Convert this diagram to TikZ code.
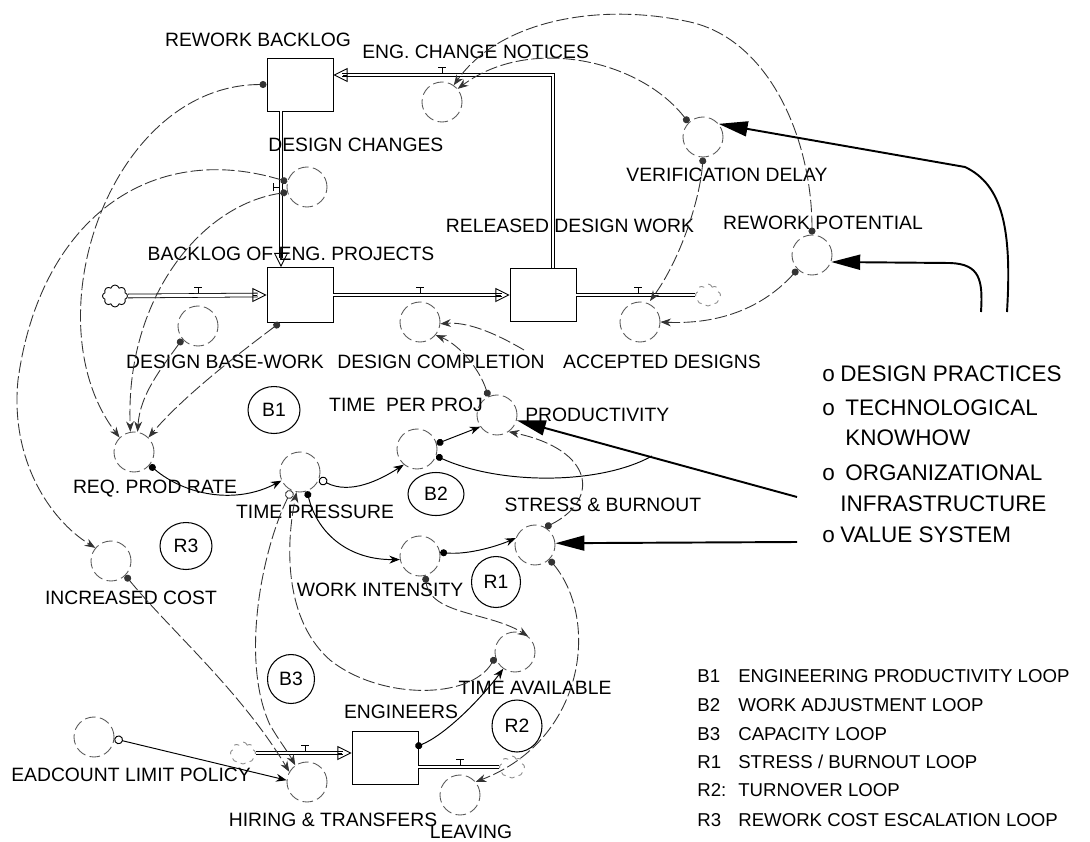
\documentclass[tikz,border=0pt]{standalone}
\usepackage{fontspec}
\setmainfont{Liberation Sans}
\usetikzlibrary{arrows.meta,shapes.geometric,shapes.symbols,calc}
\begin{document}
\begin{tikzpicture}[x=0.02cm,y=-0.02cm,
  >={Stealth[length=6pt,width=4.5pt]},
  lab/.style={inner sep=0pt,text height=7.9pt,text depth=0pt,font=\fontsize{11}{13}\selectfont},
  lst/.style={inner sep=0pt,text height=9.2pt,text depth=0pt,font=\fontsize{12.8}{15}\selectfont,anchor=west},
  leg/.style={inner sep=0pt,text height=7.6pt,text depth=0pt,font=\fontsize{10.6}{12}\selectfont,anchor=west},
  aux/.style={circle,draw=black!65,line width=0.5pt,dash pattern=on 6pt off 2.5pt,minimum size=0.8cm,inner sep=0pt},
  stock/.style={draw,line width=0.55pt,minimum width=1.32cm,minimum height=1.06cm,inner sep=0pt},
  loopb/.style={ellipse,draw,line width=0.6pt,minimum width=1.04cm,minimum height=0.94cm,inner sep=0pt,font=\fontsize{11}{13}\selectfont},
  pipe/.style={draw,line width=0.45pt,double distance=1.7pt},
  flowtip/.style={-{Triangle[open,length=8pt,width=8pt]},line width=0.5pt},
  cloudn/.style={cloud,cloud puffs=8,draw,line width=0.5pt,minimum width=0.5cm,minimum height=0.44cm,inner sep=0pt,aspect=1.1},
  conn/.style={draw=black!80,line width=0.5pt,dash pattern=on 7pt off 2pt,{Circle[length=4pt]}->},
  connS/.style={draw=black,line width=0.55pt,{Circle[length=4pt]}->},
  openS/.style={{Circle[open,length=5pt]}->},
  bigarr/.style={draw,line width=1.1pt,-{Triangle[length=0.58cm,width=0.3cm]}},
  valvet/.pic={\draw[line width=0.5pt] (-4,-8) -- (4,-8) (0,-8) -- (0,-2);}
]
\path[use as bounding box] (0,0) rectangle (1090,842);

% ---------- stocks ----------
\node[stock] (rwb) at (300,84.5) {};
\node[stock,minimum height=1.1cm] (bkl) at (300,295) {};
\node[stock] (rel) at (543,295) {};
\node[stock] (eng) at (385,758) {};

% ---------- clouds ----------
\node[cloudn] (c1) at (115,296) {};
\node[cloudn,draw=black!45,dashed] (c2) at (708,295) {};
\node[cloudn,draw=black!45,dashed] (c3) at (243,753) {};
\node[cloudn,draw=black!45,dashed] (c4) at (512,767) {};

% ---------- pipes ----------
\draw[pipe] (c1.east) -- ($(bkl.west)+(-9,0)$);
\draw[flowtip] ($(bkl.west)+(-10,0)$) -- (bkl.west);
\draw[pipe] (bkl.east) -- ($(rel.west)+(-8,0)$);
\draw[flowtip] ($(rel.west)+(-9,0)$) -- (rel.west);
\draw[pipe] (rel.east) -- (c2.west);
\draw[pipe] ($(rel.north)+(10,0)$) |- ($(rwb.east)+(9,-9.5)$);
\draw[flowtip] ($(rwb.east)+(10,-9.5)$) -- ($(rwb.east)+(0,-9.5)$);
\draw[pipe] ($(rwb.south)+(-19,0)$) -- ($(bkl.north)+(-19,-9)$);
\draw[flowtip] ($(bkl.north)+(-19,-10)$) -- ($(bkl.north)+(-19,0)$);
\draw[pipe] (c3.east) -- ($(eng.west)+(-9,-5)$);
\draw[flowtip] ($(eng.west)+(-10,-5)$) -- ($(eng.west)+(0,-5)$);
\draw[pipe] ($(eng.east)+(0,9)$) -- (c4.west);

% valves
\pic at (198,295) {valvet};
\pic at (420,295) {valvet};
\pic at (638,295) {valvet};
\pic at (442,75) {valvet};
\pic at (305,753) {valvet};
\pic at (460,767) {valvet};
\draw[line width=0.5pt] (273,183) -- (273,191) (273,187) -- (279,187);
\coordinate (v3x) at (650,301);

% ---------- auxiliaries ----------
\node[aux] (ecn) at (442,102) {};
\node[aux] (dch) at (307,187) {};
\node[aux] (dbw) at (198,326) {};
\node[aux] (dco) at (420,322) {};
\node[aux] (acc) at (640,322) {};
\node[aux] (ver) at (703,137) {};
\node[aux] (rwp) at (812,255) {};
\node[aux] (rpr) at (134,452) {};
\node[aux] (tpr) at (300,472) {};
\node[aux] (tpp) at (417,449) {};
\node[aux] (prd) at (497,415) {};
\node[aux] (win) at (420,556) {};
\node[aux] (sab) at (535,545) {};
\node[aux] (inc) at (111,561) {};
\node[aux] (tav) at (515,652) {};
\node[aux] (hlp) at (94,737) {};
\node[aux] (hir) at (307,782) {};
\node[aux] (lev) at (460,795) {};

% ---------- labels ----------
\node[lab] (rwbL) at (258,40) {REWORK BACKLOG};
\node[lab,anchor=west] (ecnL) at (362,52) {ENG. CHANGE NOTICES};
\node[lab,anchor=west] (dchL) at (268,145) {DESIGN CHANGES};
\node[lab] (bklL) at (291,254) {BACKLOG OF ENG. PROJECTS};
\node[lab] (relL) at (570,226) {RELEASED DESIGN WORK};
\node[lab] (verL) at (727,175) {VERIFICATION DELAY};
\node[lab] (rwpL) at (823,223) {REWORK POTENTIAL};
\node[lab] (dbwL) at (225,362) {DESIGN BASE-WORK};
\node[lab] (dcoL) at (441,362) {DESIGN COMPLETION};
\node[lab] (accL) at (662,362) {ACCEPTED DESIGNS};
\node[lab] (tppL) at (406,405) {TIME~ PER PROJ};
\node[lab,anchor=west] (prdL) at (525,415) {PRODUCTIVITY};
\node[lab] (rprL) at (155,487) {REQ. PROD RATE};
\node[lab] (tprL) at (315,512) {TIME PRESSURE};
\node[lab] (sabL) at (603,505) {STRESS \& BURNOUT};
\node[lab] (winL) at (380,590) {WORK INTENSITY};
\node[lab] (incL) at (131,598) {INCREASED COST};
\node[lab] (tavL) at (535,688) {TIME AVAILABLE};
\node[lab] (engL) at (401,712) {ENGINEERS};
\node[lab] (hlpL) at (131,775) {EADCOUNT LIMIT POLICY};
\node[lab] (hirL) at (333,820) {HIRING \& TRANSFERS};
\node[lab] (levL) at (471,832) {LEAVING};

% ---------- loop markers ----------
\node[loopb] (B1) at (274,410) {B1};
\node[loopb,minimum width=1.12cm,minimum height=0.86cm] (B2) at (436,494) {B2};
\node[loopb] (R3) at (186,546) {R3};
\node[loopb,minimum width=0.98cm,minimum height=1.02cm] (R1) at (496,582) {R1};
\node[loopb,minimum width=0.94cm,minimum height=0.98cm] (B3) at (291,679) {B3};
\node[loopb,minimum width=1.0cm,minimum height=1.04cm] (R2) at (517,726) {R2};

% ---------- information connectors ----------
\draw[conn] (rwb.west) .. controls (110,85) and (30,320) .. (rpr.135);
\draw[conn] (dch.165) .. controls (150,140) and (40,220) .. (18,380) .. controls (10,460) and (50,520) .. (inc.140);
\draw[conn] (dch.195) .. controls (200,205) and (125,300) .. (rpr.100);
\draw[conn] (dbw.220) .. controls (160,370) and (140,395) .. (rpr.80);
\draw[conn] ($(bkl.south west)+(13,0)$) .. controls (230,360) and (180,400) .. (rpr.45);
\draw[connS] (rpr.-40) .. controls (185,495) and (235,505) .. (tpr.205);
\draw[connS,openS] (tpr.-20) .. controls (350,495) and (380,480) .. (tpp.230);
\draw[connS] (tpp.15) -- (prd.215);
\coordinate (tppEnd) at (652,456);
\draw[connS,{Circle[length=4pt]}-] (tpp.-20) .. controls (500,485) and (600,485) .. (tppEnd);
\draw[connS] (tpr.-70) .. controls (318,535) and (350,560) .. (win.190);
\draw[connS] (win.10) .. controls (470,555) and (500,545) .. (sab.160);
\draw[conn] (sab.60) .. controls (600,500) and (595,450) .. (prd.-55);
\draw[conn] (sab.-45) .. controls (600,620) and (585,740) .. (lev.40);
\draw[conn] (win.-75) .. controls (430,615) and (490,612) .. (tav.50);
\draw[connS] ($(eng.north east)+(-3,16)$) .. controls (445,735) and (480,700) .. (tav.235);
\draw[conn] (tav.195) .. controls (470,700) and (380,700) .. (330,660) .. controls (290,625) and (283,560) .. (tpr.-100);
\draw[conn,openS] (tpr.-115) .. controls (262,550) and (240,660) .. (270,725) .. controls (280,742) and (288,752) .. (hir.125);
\draw[conn] (inc.-45) .. controls (170,630) and (240,690) .. (hir.150);
\draw[connS,openS] (hlp.-5) -- (hir.175);
\draw[conn] (prd.115) .. controls (480,370) and (460,345) .. (dco.-40);
\coordinate (dcR) at (524,350);
\draw[conn,->] (dcR) .. controls (490,330) and (465,322) .. (dco.-5);
\draw[conn] (ver.135) .. controls (640,60) and (530,35) .. (ecn.40);
\draw[conn] (rwp.90) .. controls (812,140) and (770,40) .. (690,22) .. controls (600,2) and (500,20) .. (ecn.55);
\draw[conn] (ver.-90) .. controls (700,200) and (680,260) .. (v3x);
\draw[conn] (rwp.225) .. controls (770,300) and (730,325) .. (acc.0);

% ---------- thick policy arrows ----------
\coordinate (t1) at (1007,312);
\coordinate (t2) at (981,312);
\coordinate (t3) at (797,497);
\coordinate (t4) at (797,542);
\draw[bigarr] (t1) .. controls (1012,230) and (1003,185) .. (965,167) -- (ver.40);
\draw[bigarr] (t2) .. controls (983,280) and (980,264) .. (950,263) -- (rwp.-20);
\draw[bigarr] (t3) -- (prd.-15);
\draw[bigarr] (t4) -- (sab.5);

% ---------- influence list ----------
\node[lst] (l1) at (822,373) {\makebox[0.36cm][l]{o}DESIGN PRACTICES};
\node[lst] (l2) at (822,407) {\makebox[0.46cm][l]{o}TECHNOLOGICAL};
\node[lst] (l3) at (845,437) {KNOWHOW};
\node[lst] (l4) at (822,472) {\makebox[0.46cm][l]{o}ORGANIZATIONAL};
\node[lst] (l5) at (840,503) {INFRASTRUCTURE};
\node[lst] (l6) at (822,534) {\makebox[0.36cm][l]{o}VALUE SYSTEM};

% ---------- legend ----------
\node[leg] (g1) at (697,676) {\makebox[0.82cm][l]{B1}ENGINEERING PRODUCTIVITY LOOP};
\node[leg] (g2) at (697,705) {\makebox[0.82cm][l]{B2}WORK ADJUSTMENT LOOP};
\node[leg] (g3) at (697,734) {\makebox[0.82cm][l]{B3}CAPACITY LOOP};
\node[leg] (g4) at (697,762) {\makebox[0.82cm][l]{R1}STRESS / BURNOUT LOOP};
\node[leg] (g5) at (697,790) {\makebox[0.82cm][l]{R2:}TURNOVER LOOP};
\node[leg] (g6) at (697,820) {\makebox[0.82cm][l]{R3}REWORK COST ESCALATION LOOP};
\end{tikzpicture}
\end{document}
